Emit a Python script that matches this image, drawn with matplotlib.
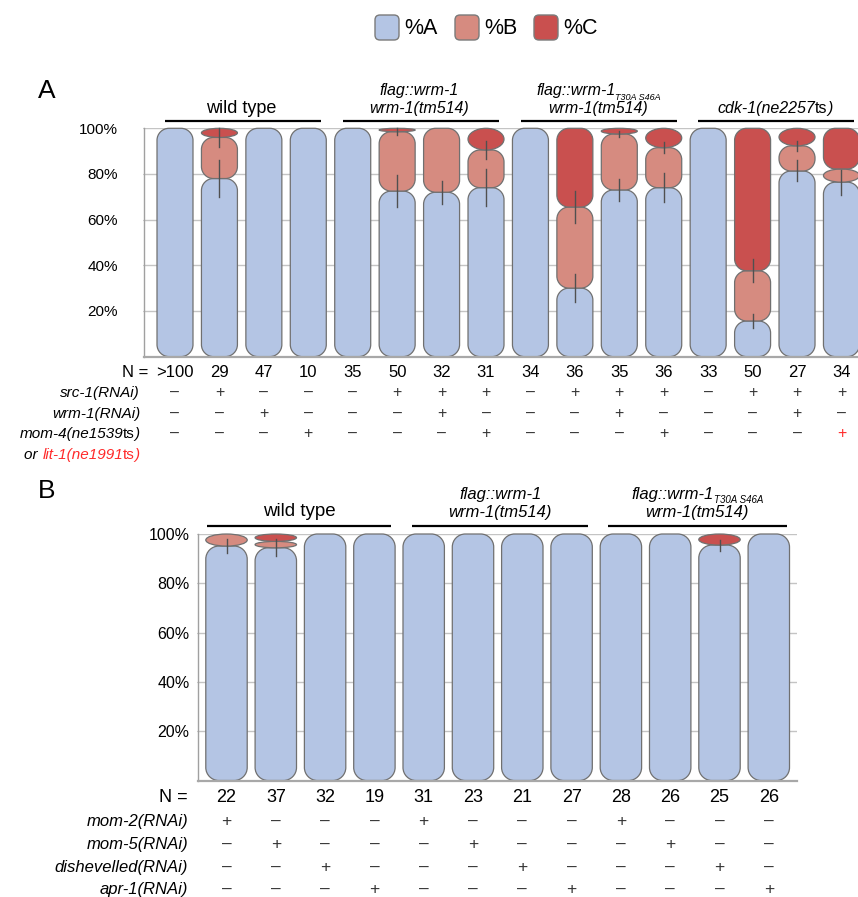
import matplotlib
matplotlib.use('Agg')
import matplotlib.pyplot as plt
from matplotlib.path import Path
from matplotlib.patches import PathPatch, FancyBboxPatch
import matplotlib.transforms as mtransforms

plt.rcParams['font.family'] = ['Liberation Sans', 'DejaVu Sans']

W, H = 858, 897

# ---------------- DATA ----------------
legend_labels = ['%A', '%B', '%C']
colors = ['#b4c5e4', '#d68b80', '#c9504f']

# Panel A
a_n = ['>100', '29', '47', '10', '35', '50', '32', '31', '34', '36', '35', '36', '33', '50', '27', '34']
a_pctA = [100, 78, 100, 100, 100, 72.5, 72, 74, 100, 30, 73, 74, 100, 15.6, 81.3, 76.4]
a_pctB = [0, 18, 0, 0, 0, 26, 28, 16.5, 0, 35.5, 24.5, 17.5, 0, 22, 11, 5.8]
a_pctC = [0, 4, 0, 0, 0, 1.5, 0, 9.5, 0, 34.5, 2.5, 8.5, 0, 62.4, 7.7, 17.8]
a_errA = [0, 8, 0, 0, 0, 7, 5, 8, 0, 6, 5, 6.5, 0, 3, 4.6, 5.5]
a_errAB = [0, 4, 0, 0, 0, 1.5, 0, 4, 0, 7, 1.5, 2.5, 0, 5, 2.3, 0]
a_src1 = ['-', '+', '-', '-', '-', '+', '+', '+', '-', '+', '+', '+', '-', '+', '+', '+']
a_wrm1 = ['-', '-', '+', '-', '-', '-', '+', '-', '-', '-', '+', '-', '-', '-', '+', '-']
a_mom4 = ['-', '-', '-', '+', '-', '-', '-', '+', '-', '-', '-', '+', '-', '-', '-', '+']
a_mom4_red = [False] * 15 + [True]

# Panel B
b_n = ['22', '37', '32', '19', '31', '23', '21', '27', '28', '26', '25', '26']
b_pctA = [95.1, 94.4, 100, 100, 100, 100, 100, 100, 100, 100, 95.5, 100]
b_pctB = [4.9, 2.6, 0, 0, 0, 0, 0, 0, 0, 0, 0, 0]
b_pctC = [0, 3.0, 0, 0, 0, 0, 0, 0, 0, 0, 4.5, 0]
b_errA = [3, 3.5, 0, 0, 0, 0, 0, 0, 0, 0, 2.2, 0]
b_errAB = [0] * 12
b_mom2 = ['+', '-', '-', '-', '+', '-', '-', '-', '+', '-', '-', '-']
b_mom5 = ['-', '+', '-', '-', '-', '+', '-', '-', '-', '+', '-', '-']
b_dsh = ['-', '-', '+', '-', '-', '-', '+', '-', '-', '-', '+', '-']
b_apr1 = ['-', '-', '-', '+', '-', '-', '-', '+', '-', '-', '-', '+']

yticks = [20, 40, 60, 80, 100]
ytick_labels = ['20%', '40%', '60%', '80%', '100%']

# ---------------- FIGURE ----------------
fig = plt.figure(figsize=(W / 100, H / 100), dpi=100)
ov = fig.add_axes([0, 0, 1, 1], zorder=5)
ov.set_xlim(0, W)
ov.set_ylim(H, 0)
ov.axis('off')

EDGE = '#707070'
K = 0.5523


def seg_path(x0, x1, y0, y1, rx, ry):
    v = [(x0 + rx, y0), (x1 - rx, y0),
         (x1 - rx + K * rx, y0), (x1, y0 + ry - K * ry), (x1, y0 + ry),
         (x1, y1 - ry),
         (x1, y1 - ry + K * ry), (x1 - rx + K * rx, y1), (x1 - rx, y1),
         (x0 + rx, y1),
         (x0 + rx - K * rx, y1), (x0, y1 - ry + K * ry), (x0, y1 - ry),
         (x0, y0 + ry),
         (x0, y0 + ry - K * ry), (x0 + rx - K * rx, y0), (x0 + rx, y0),
         (x0 + rx, y0)]
    c = [Path.MOVETO, Path.LINETO,
         Path.CURVE4, Path.CURVE4, Path.CURVE4,
         Path.LINETO,
         Path.CURVE4, Path.CURVE4, Path.CURVE4,
         Path.LINETO,
         Path.CURVE4, Path.CURVE4, Path.CURVE4,
         Path.LINETO,
         Path.CURVE4, Path.CURVE4, Path.CURVE4,
         Path.CLOSEPOLY]
    return Path(v, c)


def make_axes(c0px, slot, xmin, xmax, y0px, y100px, tickpad, fs):
    left = c0px + xmin * slot
    right = c0px + xmax * slot
    ax = fig.add_axes([left / W, 1 - y0px / H, (right - left) / W, (y0px - y100px) / H])
    ax.set_xlim(xmin, xmax)
    ax.set_ylim(0, 100)
    ax.set_xticks([])
    ax.set_yticks(yticks)
    ax.set_yticklabels(ytick_labels, fontsize=fs)
    ax.tick_params(axis='y', length=1, width=0.8, color='#a0a0a0', pad=tickpad)
    ax.yaxis.grid(True, color='#c4c4c4', lw=1)
    ax.set_axisbelow(True)
    for s in ['top', 'right']:
        ax.spines[s].set_visible(False)
    ax.spines['left'].set_color('#a0a0a0')
    ax.spines['left'].set_linewidth(1)
    ax.spines['bottom'].set_color('#a8a8a8')
    ax.spines['bottom'].set_linewidth(1.6)
    ax.patch.set_alpha(0)
    return ax


def draw_bars(ax, pA, pB, pC, eA, eAB, bw, R, slot, ppy):
    for i in range(len(pA)):
        bottom = 0
        for val, col in zip([pA[i], pB[i], pC[i]], colors):
            if val <= 0:
                continue
            hpx = val * ppy
            ry = min(R, hpx / 2) / ppy
            rx = (R if hpx >= 2 * R else bw * slot / 2) / slot
            p = seg_path(i - bw / 2, i + bw / 2, bottom, bottom + val, rx, ry)
            ax.add_patch(PathPatch(p, facecolor=col, edgecolor=EDGE, lw=0.9,
                                   zorder=2, clip_on=False))
            bottom += val
        if eA[i] > 0:
            ax.plot([i, i], [pA[i] - eA[i], pA[i] + eA[i]], color='#505050', lw=1, zorder=4, clip_on=False)
        if eAB[i] > 0:
            t = pA[i] + pB[i]
            ax.plot([i, i], [t - eAB[i], t + eAB[i]], color='#505050', lw=1, zorder=4, clip_on=False)


# ---- rich text helper ----
rich_groups = []


def rich(x, y, parts, trans, ha='center'):
    texts = []
    for s, kw in parts:
        kw = dict(kw)
        dy = kw.pop('dy', 0)
        if not texts:
            t = ov.text(x, y, s, transform=trans, ha='left', va='baseline', **kw)
        else:
            t = ov.annotate(s, xy=(1, 0), xycoords=texts[-1], xytext=(0, dy),
                            textcoords='offset points', ha='left', va='bottom', **kw)
        texts.append(t)
    rich_groups.append((texts, ha, trans))


def finalize_rich():
    fig.canvas.draw()
    r = fig.canvas.get_renderer()
    for texts, ha, trans in rich_groups:
        x0 = texts[0].get_window_extent(r).x0
        x1 = max(t.get_window_extent(r).x1 for t in texts)
        w = x1 - x0
        dx = -w / 2 if ha == 'center' else (-w if ha == 'right' else 0)
        texts[0].set_transform(trans + mtransforms.ScaledTranslation(dx / fig.dpi, 0, fig.dpi_scale_trans))


IT = dict(style='italic')
RED = '#ff2a2a'

# ---------------- LEGEND ----------------
for lab, col, bx, tx in zip(legend_labels, colors, [375, 455, 534], [404, 484, 563]):
    ov.add_patch(FancyBboxPatch((bx, 15), 24, 25, boxstyle='round,pad=0,rounding_size=5',
                                facecolor=col, edgecolor='#7a7a7a', lw=1))
    ov.text(tx, 34, lab, fontsize=15.5, ha='left', va='baseline')

# ---------------- PANEL A ----------------
slotA, c0A = 44.43, 175.0
y0A, y100A = 356.6, 128.3
axA = make_axes(c0A, slotA, -0.698, 15.8, y0A, y100A, 17.8, 11)
draw_bars(axA, a_pctA, a_pctB, a_pctC, a_errA, a_errAB, 0.81, 12, slotA, (y0A - y100A) / 100)
trA = mtransforms.blended_transform_factory(axA.transData, ov.transData)

ov.text(46.5, 91.5, 'A', fontsize=19, ha='center', va='center')

# group lines and headers
for g in range(4):
    s, e = 4 * g - 0.22, 4 * g + 3 + 0.29
    ov.plot([s, e], [120.7, 120.7], color='black', lw=1.6, transform=trA, solid_capstyle='butt')
gc = [4 * g + 1.5 for g in range(4)]
ov.text(gc[0], 113.3, 'wild type', fontsize=13, ha='center', va='baseline', transform=trA)
ov.text(gc[1], 95.5, 'flag::wrm-1', fontsize=11.5, ha='center', va='baseline', transform=trA, **IT)
ov.text(gc[1], 113.3, 'wrm-1(tm514)', fontsize=11.5, ha='center', va='baseline', transform=trA, **IT)
rich(gc[2] + 0.03, 95.5, [('flag::wrm-1', dict(fontsize=11.5, **IT)),
                          ('T30A S46A', dict(fontsize=6.5, dy=-2.3, **IT))], trA)
ov.text(gc[2] + 0.03, 113.3, 'wrm-1(tm514)', fontsize=11.5, ha='center', va='baseline', transform=trA, **IT)
rich(gc[3], 113.3, [('cdk-1(ne2257', dict(fontsize=11.5, **IT)),
                    ('ts', dict(fontsize=11.5)),
                    (')', dict(fontsize=11.5, **IT))], trA)

# table A
ov.text(148, 376.6, 'N =', fontsize=12, ha='right', va='baseline')
for i, n in enumerate(a_n):
    ov.text(i, 376.6, n, fontsize=12, ha='center', va='baseline', transform=trA)
rowsA = [(397.2, a_src1, [False] * 16), (417.8, a_wrm1, [False] * 16), (438.2, a_mom4, a_mom4_red)]
for yb, vals, reds in rowsA:
    for i, (v, rd) in enumerate(zip(vals, reds)):
        ov.text(i, yb, '+' if v == '+' else '\u2013', fontsize=11.5, ha='center', va='baseline',
                color=RED if rd else '#333333', transform=trA)
ov.text(140, 397.2, 'src-1(RNAi)', fontsize=11, ha='right', va='baseline', **IT)
ov.text(140, 417.8, 'wrm-1(RNAi)', fontsize=11, ha='right', va='baseline', **IT)
rich(140, 438.2, [('mom-4(ne1539', dict(fontsize=11, **IT)), ('ts', dict(fontsize=11)),
                  (')', dict(fontsize=11, **IT))], ov.transData, ha='right')
rich(140, 458.8, [('or ', dict(fontsize=11, **IT)), ('lit-1(ne1991', dict(fontsize=11, color=RED, **IT)),
                  ('ts', dict(fontsize=11, color=RED)), (')', dict(fontsize=11, color=RED, **IT))],
     ov.transData, ha='right')

# ---------------- PANEL B ----------------
slotB, c0B = 49.3, 226.5
y0B, y100B = 780.5, 534.0
axB = make_axes(c0B, slotB, -0.584, 11.57, y0B, y100B, 4.8, 11.5)
draw_bars(axB, b_pctA, b_pctB, b_pctC, b_errA, b_errAB, 0.84, 13, slotB, (y0B - y100B) / 100)
trB = mtransforms.blended_transform_factory(axB.transData, ov.transData)

ov.text(46.5, 491, 'B', fontsize=19, ha='center', va='center')

for g, (s_off, e_off) in enumerate([(-0.39, 0.33), (-0.23, 0.34), (-0.26, 0.36)]):
    ov.plot([4 * g + s_off, 4 * g + 3 + e_off], [526, 526], color='black', lw=1.6, transform=trB,
            solid_capstyle='butt')
gcB = [1.47, 5.55, 9.55]
ov.text(gcB[0], 516, 'wild type', fontsize=13.5, ha='center', va='baseline', transform=trB)
ov.text(gcB[1], 498.5, 'flag::wrm-1', fontsize=12, ha='center', va='baseline', transform=trB, **IT)
ov.text(gcB[1], 517, 'wrm-1(tm514)', fontsize=12, ha='center', va='baseline', transform=trB, **IT)
rich(gcB[2], 498.5, [('flag::wrm-1', dict(fontsize=12, **IT)),
                     ('T30A S46A', dict(fontsize=7, dy=-2.3, **IT))], trB)
ov.text(gcB[2], 517, 'wrm-1(tm514)', fontsize=12, ha='center', va='baseline', transform=trB, **IT)

ov.text(188, 801.5, 'N =', fontsize=13, ha='right', va='baseline')
for i, n in enumerate(b_n):
    ov.text(i, 801.5, n, fontsize=13, ha='center', va='baseline', transform=trB)
rowsB = [(826, 'mom-2(RNAi)', b_mom2), (848.7, 'mom-5(RNAi)', b_mom5),
         (872, 'dishevelled(RNAi)', b_dsh), (894.3, 'apr-1(RNAi)', b_apr1)]
for yb, lab, vals in rowsB:
    ov.text(188, yb, lab, fontsize=12, ha='right', va='baseline', **IT)
    for i, v in enumerate(vals):
        ov.text(i, yb, '+' if v == '+' else '\u2013', fontsize=12.5, ha='center', va='baseline',
                color='#333333', transform=trB)

finalize_rich()
fig.savefig('out.png', dpi=100)
